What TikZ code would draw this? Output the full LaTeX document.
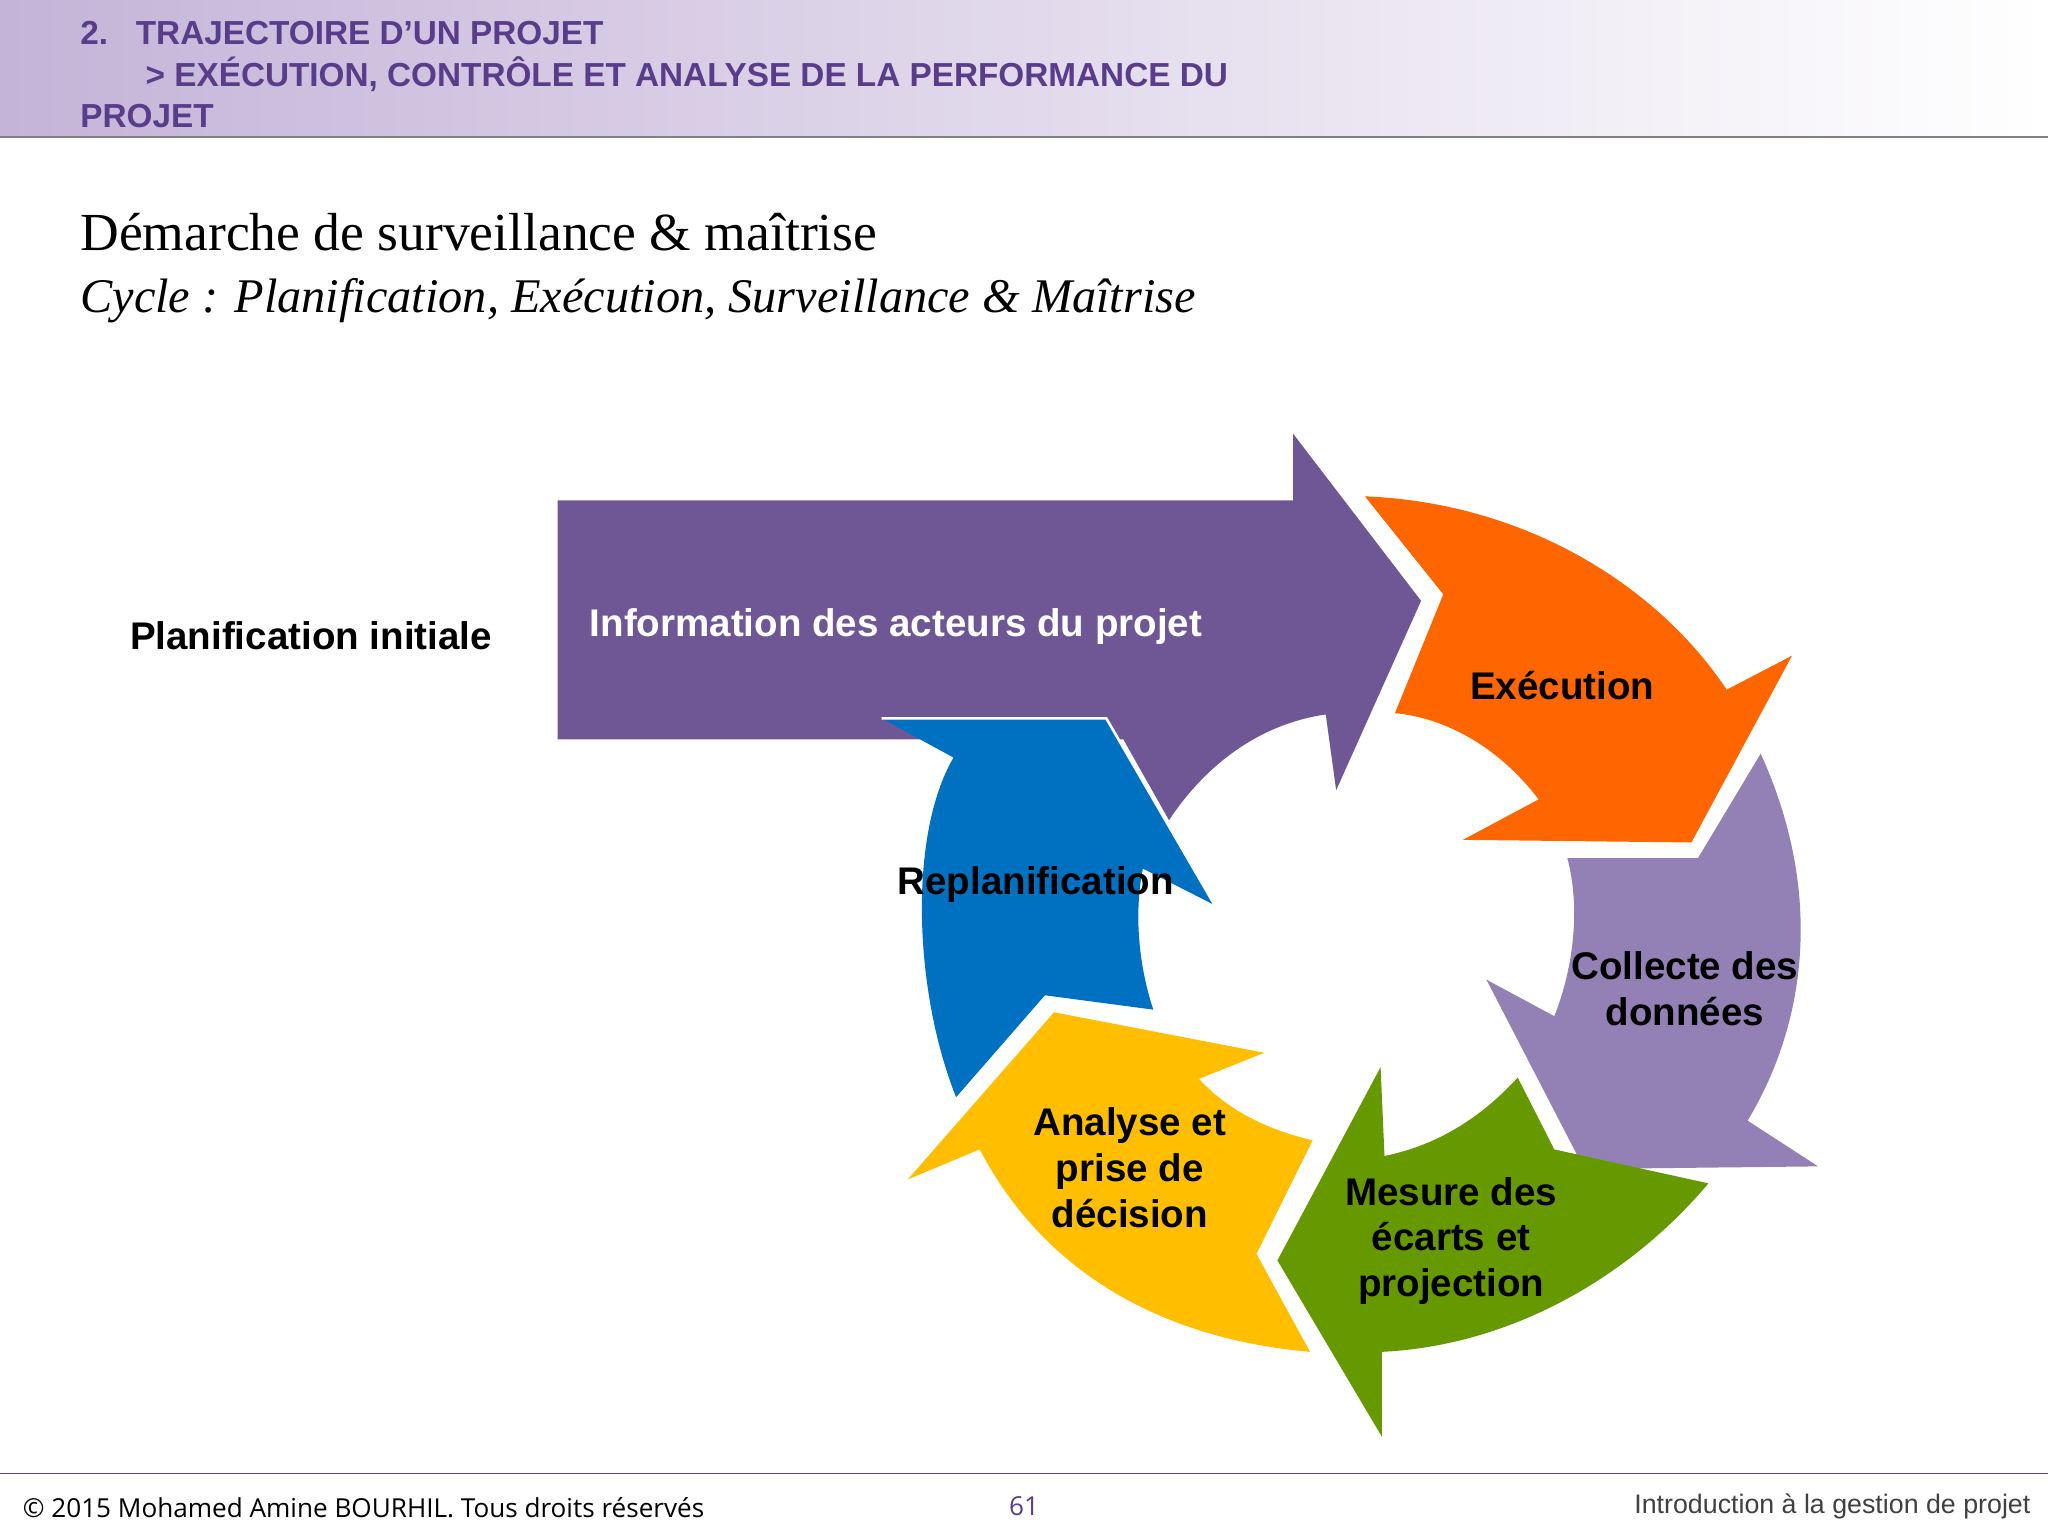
\documentclass[tikz,border=0pt]{standalone}
\usepackage{fontspec}
\setmainfont{Liberation Sans}
\newfontfamily\serifx{Liberation Serif}
\newfontfamily\calfoot{Open Sans}
\definecolor{hdr}{HTML}{C4B4D8}
\definecolor{hdrtxt}{HTML}{5A3D8A}
\definecolor{pur}{HTML}{6F5796}
\definecolor{org}{HTML}{FF6600}
\definecolor{lil}{HTML}{9381B5}
\definecolor{grn}{HTML}{669900}
\definecolor{yel}{HTML}{FFBF00}
\definecolor{blu}{HTML}{0070C0}
\tikzset{lbl/.style={font=\bfseries\fontsize{29.5}{35}\selectfont,align=center},
hd/.style={font=\bfseries\fontsize{25.5}{28}\selectfont,text=hdrtxt,anchor=west}}
\begin{document}
\begin{tikzpicture}[x=1pt,y=-1pt]
\useasboundingbox (0,0) rectangle (1568,1176);
\shade[left color=hdr,right color=white] (0,0) rectangle (1568,105);
\draw[gray,line width=1pt] (0,105) -- (1568,105);
\node[hd] (h1) at (58,25) {2.\ \ \ TRAJECTOIRE D'UN PROJET};
\node[hd] (h2) at (108,57) {> EXÉCUTION, CONTRÔLE ET ANALYSE DE LA PERFORMANCE DU};
\node[hd] (h3) at (58,89) {PROJET};
\node[anchor=west,font=\serifx\fontsize{41}{44}\selectfont] (t1) at (58,178) {Démarche de surveillance \& maîtrise};
\node[anchor=west,font=\serifx\itshape\fontsize{37}{44}\selectfont] (t2) at (58,230) {Cycle : Planification, Exécution, Surveillance \& Maîtrise};
% purple
\fill[pur] (427,383) -- (990,383) -- (990,332) -- (1088,460) -- (1023,605) -- (1015,547)
  .. controls (960,555) and (920,590) .. (895,628) -- (860,566) -- (427,566) -- cycle;
% orange
\fill[org] (1045,380) .. controls (1170,385) and (1270,450) .. (1322,528) -- (1372,502) -- (1295,645) -- (1120,643) -- (1178,612)
  .. controls (1150,575) and (1110,550) .. (1068,546) -- (1105,455) -- cycle;
% lilac
\fill[lil] (1348,577) .. controls (1395,680) and (1385,780) .. (1338,858) -- (1392,893) -- (1213,895) -- (1138,750) -- (1190,778)
  .. controls (1205,740) and (1210,695) .. (1200,657) -- (1300,657) -- cycle;
% green
\fill[grn] (1057,817) -- (978,965) -- (1058,1100) -- (1058,1035) .. controls (1160,1030) and (1250,975) .. (1308,906) -- (1190,880) -- (1162,825)
  .. controls (1130,860) and (1095,878) .. (1060,885) -- cycle;
% yellow
\fill[yel] (695,903) -- (807,775) -- (968,806) -- (918,826) .. controls (940,850) and (970,865) .. (1005,873) -- (962,960) -- (1003,1035)
  .. controls (890,1025) and (800,975) .. (750,880) -- cycle;
% blue
\fill[blu] (675,550) -- (847,550) -- (930,693) -- (875,665) .. controls (868,700) and (872,740) .. (883,773) -- (800,762) -- (732,840)
  .. controls (700,760) and (695,640) .. (730,580) -- cycle;
\draw[white,line width=2pt] (675,550) -- (847,550) -- (930,693);
\node[anchor=west,font=\bfseries\fontsize{29.5}{35}\selectfont] (pi) at (96,487) {Planification initiale};
\node[anchor=west,font=\bfseries\fontsize{29.5}{35}\selectfont,text=white] (ia) at (448,480) {Information des acteurs du projet};
\node[lbl] (ex) at (1196,525) {Exécution};
\node[lbl] (cd) at (1290,757) {Collecte des\\données};
\node[lbl] (md) at (1111,950) {Mesure des\\écarts et\\projection};
\node[lbl] (ap) at (865,894) {Analyse et\\prise de\\décision};
\node[lbl] (rp) at (793,677) {Replanification};
\draw[hdrtxt,line width=1pt] (0,1128) -- (1568,1128);
\node[anchor=west,font=\calfoot\fontsize{20}{24}\selectfont] (f1) at (14,1154) {© 2015 Mohamed Amine BOURHIL. Tous droits réservés};
\node[font=\calfoot\fontsize{20}{24}\selectfont,text=hdrtxt] (f2) at (784,1153) {61};
\node[anchor=east,font=\fontsize{20.5}{24}\selectfont,text=darkgray] (f3) at (1558,1153) {Introduction à la gestion de projet};
\end{tikzpicture}
\end{document}
